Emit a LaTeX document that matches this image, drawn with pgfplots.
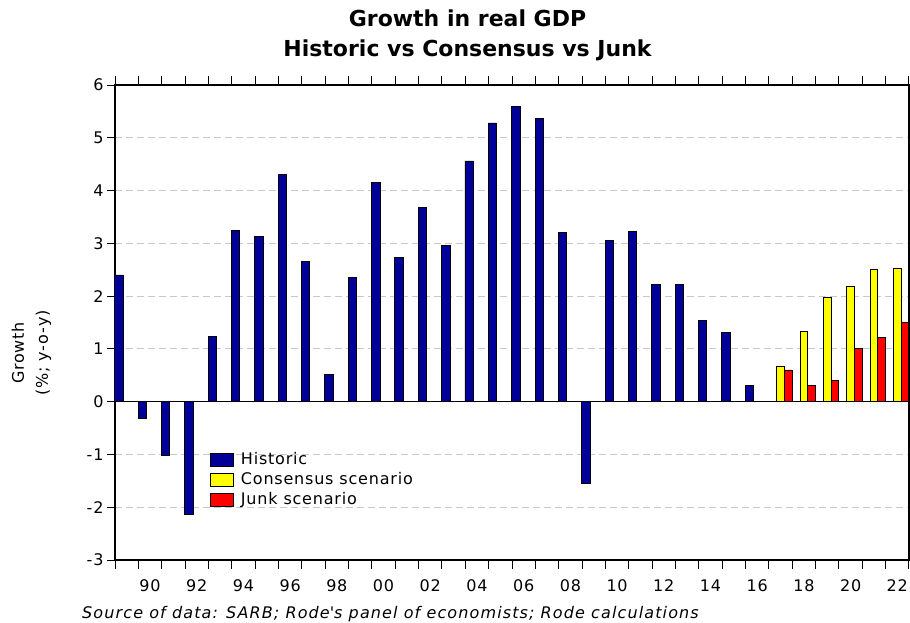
\documentclass[border=0pt]{standalone}
\usepackage{fontspec}
\setmainfont{DejaVu Sans}[LetterSpace=5]
\newfontfamily\titlefont{DejaVu Sans}
\newfontfamily\srcfont{DejaVu Sans}[LetterSpace=7]
\usepackage{pgfplots}
\pgfplotsset{compat=1.18}

\definecolor{histblue}{RGB}{0,0,153}
\definecolor{consyellow}{RGB}{255,255,0}
\definecolor{junkred}{RGB}{255,0,0}
\definecolor{gridgray}{RGB}{200,200,200}

% Real GDP growth, % y-o-y
\pgfplotstableread{
year growth
1989  2.40
1990 -0.32
1991 -1.02
1992 -2.14
1993  1.24
1994  3.24
1995  3.13
1996  4.31
1997  2.65
1998  0.52
1999  2.36
2000  4.16
2001  2.74
2002  3.68
2003  2.96
2004  4.56
2005  5.28
2006  5.60
2007  5.37
2008  3.20
2009 -1.54
2010  3.05
2011  3.22
2012  2.22
2013  2.22
2014  1.54
2015  1.31
2016  0.30
}\historic

\pgfplotstableread{
year growth
2017 0.66
2018 1.33
2019 1.97
2020 2.19
2021 2.51
2022 2.53
}\consensus

\pgfplotstableread{
year growth
2017 0.60
2018 0.30
2019 0.40
2020 1.01
2021 1.21
2022 1.50
}\junk

\newcommand{\lblfont}{\fontsize{16}{19}\selectfont}

\begin{document}
\begin{tikzpicture}
\useasboundingbox (-115pt,-63pt) rectangle (795pt,560pt);
\begin{axis}[
  scale only axis,
  width=794pt, height=475pt,
  at={(0,0)}, anchor=south west,
  xmin=1988.5, xmax=2022.5,
  ymin=-3, ymax=6,
  ytick={-3,-2,...,6},
  xtick={1990,1992,...,2022},
  xticklabels={90,92,94,96,98,00,02,04,06,08,10,12,14,16,18,20,22},
  minor xtick={1988.5,1989.5,...,2022.5},
  tick align=outside,
  major tick length=8pt,
  minor tick length=9pt,
  major x tick style={draw=none},
  tick style={black, line width=0.9pt},
  /pgf/number format/assume math mode=true,
  tick label style={font=\lblfont},
  xticklabel shift=8pt,
  axis line style={black, line width=1.2pt},
  ymajorgrids,
  major grid style={gridgray, line width=0.9pt, dash pattern=on 7pt off 4pt},
  title={Growth in real GDP\\Historic vs Consensus vs Junk},
  title style={at={(0.444,1)}, anchor=south, yshift=18.3pt, align=center,
    inner sep=0pt, font=\titlefont\bfseries\fontsize{22}{30}\selectfont},
  ylabel={Growth\\[5pt](\%;\ y-o-y)},
  ylabel style={at={(axis description cs:-0.1052,0.436)}, anchor=center,
    align=center, font=\lblfont},
  legend style={at={(0.1196,0.2316)}, anchor=north west, draw=none, fill=none,
    inner sep=0pt, row sep=0pt, font=\lblfont,
    nodes={text height=12pt, text depth=4pt, inner ysep=2pt},
    /tikz/every odd column/.append style={column sep=5pt}},
  legend cell align=left,
  barbox/.style={ybar, draw=black, line width=0.8pt,
    legend image code/.code={\draw[##1, line width=0.8pt] (0pt,-6pt) rectangle (23pt,7pt);}},
]
\addplot[barbox, fill=histblue, bar width=0.36, bar shift=-0.335]
  table[x=year, y=growth] {\historic};
\addlegendentry{Historic}
\addplot[barbox, fill=consyellow, bar width=0.33, bar shift=0]
  table[x=year, y=growth] {\consensus};
\addlegendentry{Consensus scenario}
\addplot[barbox, fill=junkred, bar width=0.33, bar shift=0.33]
  table[x=year, y=growth] {\junk};
\addlegendentry{Junk scenario}
\addplot[black, line width=1.2pt, forget plot] coordinates {(1988.5,0) (2022.5,0)};
\end{axis}
\node[anchor=base west, inner sep=0pt, font=\srcfont\itshape\fontsize{16}{19}\selectfont]
  at (-33pt,-59pt) {Source of data: SARB; Rode\textquotesingle s panel of economists; Rode calculations};
\end{tikzpicture}
\end{document}
